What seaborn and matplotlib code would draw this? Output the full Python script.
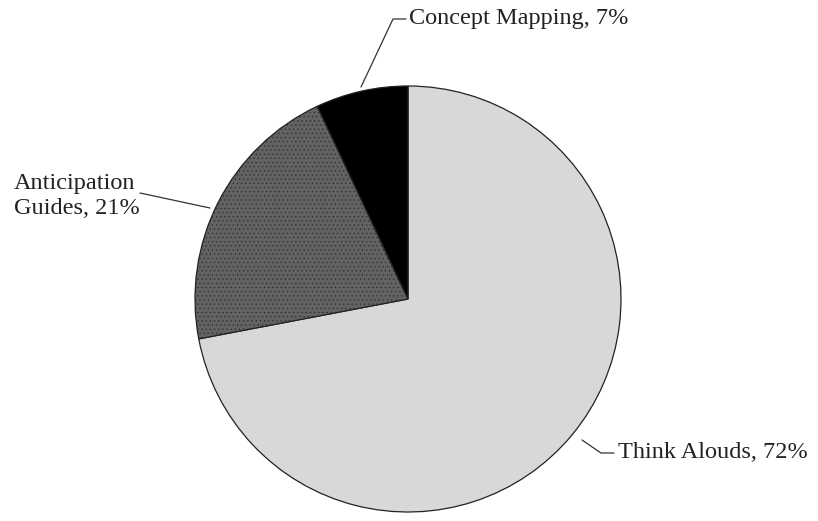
import numpy as np
import matplotlib
matplotlib.use("Agg")
import matplotlib.pyplot as plt
import seaborn as sns

# data
labels = ["Think Alouds", "Anticipation\nGuides", "Concept Mapping"]
shares = [72, 21, 7]
colors = ["#d8d8d8", "#626262", "#000000"]

sns.set_style("white")
plt.rcParams["font.family"] = ["Liberation Serif", "DejaVu Serif"]
plt.rcParams["hatch.color"] = "#4c4c4c"
plt.rcParams["hatch.linewidth"] = 0.3

W, H = 818, 521
fig = plt.figure(figsize=(W / 100, H / 100), dpi=100)
cx, cy, r = 408, 299, 213
ax = fig.add_axes([(cx - r) / W, (H - cy - r) / H, 2 * r / W, 2 * r / H])

pal = sns.color_palette(colors)
wedges, _ = ax.pie(shares, colors=pal, startangle=90, counterclock=False,
                   radius=1, wedgeprops=dict(edgecolor="#222222", linewidth=0.9))
wedges[1].set_hatch("....")
ax.set_xlim(-1, 1)
ax.set_ylim(-1, 1)
ax.set_aspect("equal")
ax.axis("off")


def px(x, y):
    # pixel -> data coords
    return ((x - cx) / r, (cy - y) / r)


# label text, text anchor pixel, leader line pixel points
texts = [
    (f"{labels[0]}, {shares[0]}%", (618, 453),
     [(582, 440), (601, 453), (614, 453)]),
    (f"{labels[1]}, {shares[1]}%", (14, 196),
     [(210, 208), (140, 193)]),
    (f"{labels[2]}, {shares[2]}%", (409, 19),
     [(361, 87), (393, 19), (406, 19)]),
]

for txt, (tx, ty), pts in texts:
    x, y = px(tx, ty)
    ax.text(x, y, txt, ha="left", va="center", fontsize=17.5, color="#222222",
            linespacing=1.3, clip_on=False)
    xs, ys = zip(*[px(a, b) for a, b in pts])
    ax.plot(xs, ys, color="#333333", lw=0.9, clip_on=False)

fig.savefig("out.png", dpi=100, facecolor="white")
